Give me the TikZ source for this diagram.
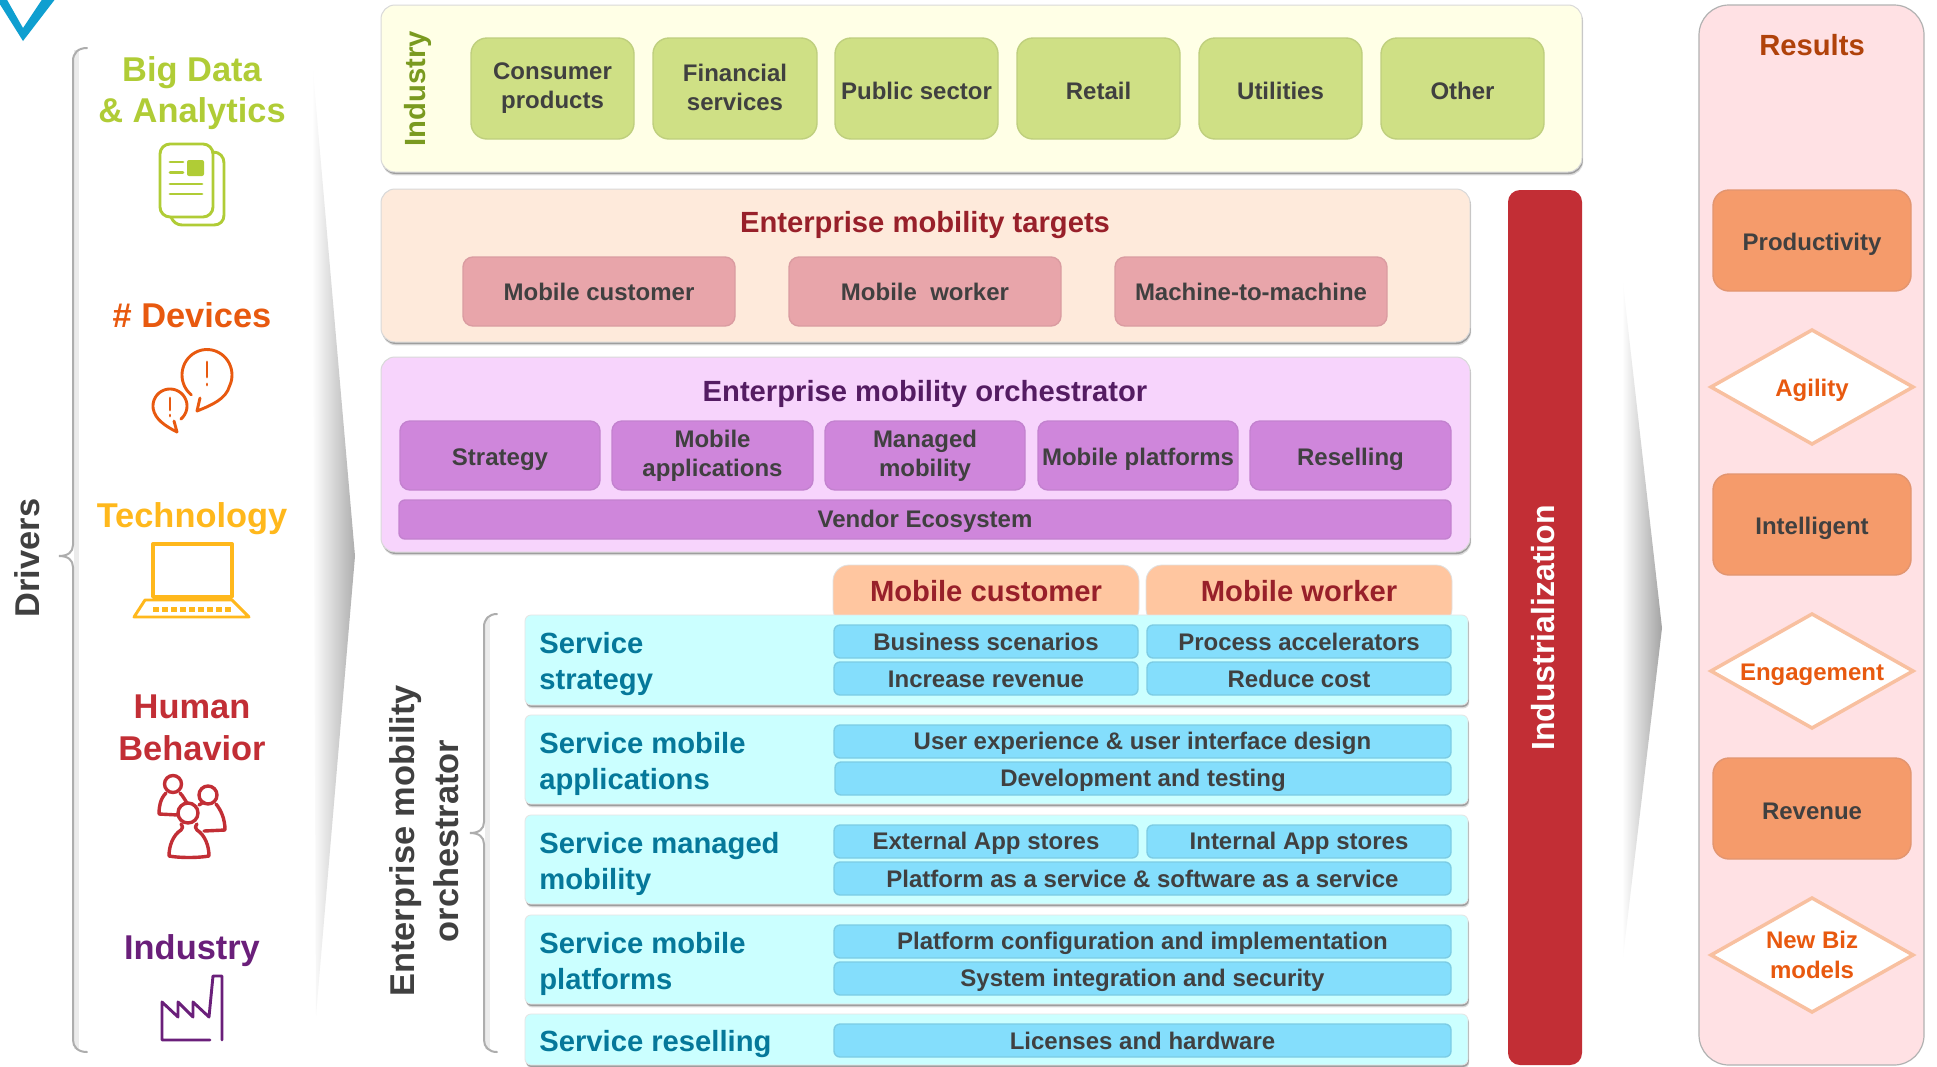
\documentclass[tikz,border=0pt]{standalone}
\usepackage{fontspec}
\setmainfont{Liberation Sans}
\usetikzlibrary{shapes.geometric,shadows}
\definecolor{txt}{HTML}{404040}
\definecolor{indbg}{HTML}{FFFFE6}
\definecolor{indbox}{HTML}{CFE085}
\definecolor{indedge}{HTML}{BFCF7E}
\definecolor{tgtbg}{HTML}{FEEADB}
\definecolor{tgtbox}{HTML}{E8A5AA}
\definecolor{tgtedge}{HTML}{DA9CA1}
\definecolor{orcbg}{HTML}{F7D4FC}
\definecolor{orcbox}{HTML}{CF86DB}
\definecolor{orcedge}{HTML}{C382CF}
\definecolor{tabf}{HTML}{FFC6A0}
\definecolor{tabt}{HTML}{98202A}
\definecolor{band}{HTML}{CBFFFF}
\definecolor{blu}{HTML}{84DEFC}
\definecolor{bluedge}{HTML}{7CCCE4}
\definecolor{teal}{HTML}{05789A}
\definecolor{resbg}{HTML}{FFE1E4}
\definecolor{orng}{HTML}{F59B6B}
\definecolor{orngedge}{HTML}{E29570}
\definecolor{dia}{HTML}{F8C0A0}
\definecolor{redbar}{HTML}{C22E35}
\definecolor{cBig}{HTML}{B0CC36}
\definecolor{cDev}{HTML}{E8590F}
\definecolor{cTec}{HTML}{FFB81C}
\definecolor{cHum}{HTML}{C22E35}
\definecolor{cInd}{HTML}{6A1F7A}
\definecolor{chev}{HTML}{0F9FD0}
\newcommand{\fa}{\fontsize{12}{14.6}\selectfont\bfseries}
\newcommand{\fb}{\fontsize{14.6}{18}\selectfont\bfseries}
\newcommand{\fc}{\fontsize{17.2}{20}\selectfont\bfseries}
\newcommand{\lowstrut}{\rule[-1.6pt]{0pt}{12pt}}
\newcommand{\lowerstrut}{\rule[-1.6pt]{0pt}{14pt}}
\newcommand{\bx}[7]{%
  \pgfmathsetmacro\bxw{(#4-#2)*0.5}%
  \pgfmathsetmacro\bxh{(#5-#3)*0.5}%
  \node[#6,minimum width=\bxw pt,minimum height=\bxh pt] (#1) at ({(#2+#4)/2},{(#3+#5)/2}) {#7};}
\tikzset{
  softshadow/.style={drop shadow={shadow xshift=0.6pt,shadow yshift=-1.7pt,fill=black,opacity=0.14},
                     drop shadow={shadow xshift=0.4pt,shadow yshift=-1pt,fill=black,opacity=0.28}},
  panel/.style={rounded corners=7pt,softshadow,inner sep=0pt,outer sep=0pt,draw=black!15,line width=0.5pt},
  inbox/.style={rounded corners=6pt,inner sep=0pt,outer sep=0pt,line width=0.7pt,font=\fa,text=txt,align=center,
     execute at begin node=\lowstrut,execute at end node=\lowstrut},
  inboxlow/.style={inbox,execute at begin node=\lowerstrut,execute at end node=\lowerstrut},
  indb/.style={inboxlow,fill=indbox,draw=indedge,rounded corners=8pt},
  tgtb/.style={inbox,fill=tgtbox,draw=tgtedge,rounded corners=5pt},
  orcb/.style={inboxlow,fill=orcbox,draw=orcedge,rounded corners=5pt},
  blub/.style={inbox,fill=blu,draw=bluedge,rounded corners=3pt},
  bandb/.style={rounded corners=3pt,fill=band,softshadow,inner sep=0pt,outer sep=0pt,draw=black!10,line width=0.4pt},
  bandt/.style={font=\fb,text=teal,align=left,anchor=west,inner sep=0pt},
  tabshape/.style={fill=tabf,draw=black!12,line width=0.4pt},
  tabt/.style={font=\fb,text=tabt,inner sep=0pt},
  resb/.style={inboxlow,fill=orng,draw=orngedge,rounded corners=8pt},
  diab/.style={diamond,aspect=1.77,fill=white,draw=dia,line width=1.75pt,inner sep=0pt,outer sep=0pt,
     font=\fa,text=cDev,align=center},
  ttl/.style={font=\fb,inner sep=0pt},
  drv/.style={font=\fc,inner sep=0pt,align=center,anchor=base},
  brace/.style={draw=black!32,line width=1pt,line cap=round},
  braceglow/.style={draw=black!8,line width=2.5pt},
  icon/.style={line width=1.45pt,line cap=round,line join=round},
}
\begin{document}
\begin{tikzpicture}[x=0.5pt,y=-0.5pt]
\useasboundingbox (0,0) rectangle (1937,1066);
\clip (0,0) rectangle (1937,1066);
\fill[white] (0,0) rectangle (1937,1066);
% arrow-like shaded edges
\shade[left color=white,right color=black!32] (312,60) -- (355,556) -- (316,1015) -- cycle;
\shade[left color=white,right color=black!36] (1622,275) -- (1662,628) -- (1622,965) -- cycle;
% chevron
\fill[chev] (-4,-2) -- (23,41) -- (56,-2) -- (43,-2) -- (23,28) -- (6,-2) -- cycle;
% braces
\draw[braceglow] (76,50) -- (76,1049);
\draw[brace] (87,48) .. controls (78,48) and (73,53) .. (73,61) -- (73,545) .. controls (73,552) and (68,556) .. (59,556) .. controls (68,556) and (73,560) .. (73,567) -- (73,1040) .. controls (73,1047) and (78,1052) .. (87,1052);
\draw[braceglow] (487,618) -- (487,1049);
\draw[brace] (497,614) .. controls (489,614) and (484,619) .. (484,627) -- (484,822) .. controls (484,829) and (479,833) .. (470,833) .. controls (479,833) and (484,837) .. (484,844) -- (484,1040) .. controls (484,1047) and (489,1052) .. (497,1052);
% drivers column
\node[font=\fc,text=txt,rotate=90,inner sep=0pt] (drivers) at (27,558) {Drivers};
\node[drv,text=cBig] (bd1) at (192,81) {Big Data};
\node[drv,text=cBig] (bd2) at (192,122) {\& Analytics};
\node[drv,text=cDev] (dev) at (192,327) {\# Devices};
\node[drv,text=cTec] (tec) at (192,527) {Technology};
\node[drv,text=cHum] (hum1) at (192,718) {Human};
\node[drv,text=cHum] (hum2) at (192,760) {Behavior};
\node[drv,text=cInd] (ind) at (192,959) {Industry};
% icon: documents
\draw[icon,draw=cBig] (213,152) .. controls (220,152) and (224,157) .. (224,163) -- (224,215) .. controls (224,221) and (220,225) .. (214,225) -- (182,225) .. controls (177,225) and (173,222) .. (171,217);
\draw[icon,draw=cBig,rounded corners=5pt] (160,144) rectangle (213,217);
\draw[icon,draw=cBig] (170,162) -- (183,162) (170,172.5) -- (183,172.5) (170,184) -- (202,184) (170,194) -- (202,194);
\fill[cBig,rounded corners=1pt] (187,160) rectangle (204,176);
% icon: speech bubbles
\draw[icon,draw=cDev] plot[domain=129:385,samples=40] ({207+25*cos(\x)},{375+25.5*sin(\x)}) .. controls (226,399) and (212,405) .. (197,411) -- (200,398);
\draw[icon,draw=cDev] (207,362) -- (207,377) (207,384) -- (207,385);
\draw[icon,draw=cDev] plot[domain=50:-190,samples=40] ({170+17*cos(\x)},{406+17*sin(\x)}) .. controls (155,419) and (165,426) .. (177,432) -- (174,421);
\draw[icon,draw=cDev] (170,398) -- (170,410) (170,415) -- (170,416);
% icon: laptop
\draw[icon,draw=cTec,line width=1.7pt] (153,544) rectangle (232,597);
\draw[icon,draw=cTec] (145,600) -- (232,600) -- (249,617) -- (134,617) -- cycle;
\draw[draw=cTec,line width=2.4pt,dash pattern=on 3pt off 1.5pt] (153,609.5) -- (232,609.5);
% icon: people
\begin{scope}[line width=1.7pt,line cap=round,line join=round,draw=cHum]
\draw (173,784) circle[radius=8.5];
\draw (208,795) circle[radius=9];
\draw (166,793) .. controls (160,799) and (159,807) .. (159,814) -- (178,815);
\draw (180,793) .. controls (183,796) and (185,800) .. (187,803);
\draw (199,805) -- (204,802);
\draw (216,804) .. controls (221,810) and (225,819) .. (225,830) -- (204,831);
\draw[fill=white] (188,813) circle[radius=10];
\draw (181,824) .. controls (183,827) and (183,828) .. (181,830) .. controls (173,835) and (169,846) .. (169,856) .. controls (180,858) and (198,858) .. (209,856) .. controls (209,846) and (205,835) .. (197,830) .. controls (195,828) and (195,827) .. (197,824);
\end{scope}
% icon: factory
\draw[icon,draw=cInd] (210,1040) -- (162,1040) -- (162,1002) -- (178,1017) -- (178,1002) -- (193,1017) -- (193,1002) -- (209,1017) -- (213,976) -- (222,976) -- (222,1040);
% industry band
\bx{indpanel}{381}{5}{1582}{172}{panel,fill=indbg}{}
\node[font=\fb,text={rgb,255:red,122;green,154;blue,32},rotate=90,inner sep=0pt] (indlbl) at (418,89) {Industry};
\bx{i1}{471}{38}{634}{139}{indb}{Consumer\\products}
\bx{i2}{653}{38}{817}{139}{indb}{Financial\\services}
\bx{i3}{835}{38}{998}{139}{indb}{Public sector}
\bx{i4}{1017}{38}{1180}{139}{indb}{Retail}
\bx{i5}{1199}{38}{1362}{139}{indb}{Utilities}
\bx{i6}{1381}{38}{1544}{139}{indb}{Other}
% targets
\bx{tgtpanel}{381}{189}{1470}{342}{panel,fill=tgtbg}{}
\node[ttl,text=tabt] (tgttitle) at (925,225) {Enterprise mobility targets};
\bx{t1}{463}{257}{735}{326}{tgtb}{Mobile customer}
\bx{t2}{789}{257}{1061}{326}{tgtb}{Mobile~~worker}
\bx{t3}{1115}{257}{1387}{326}{tgtb}{Machine-to-machine}
% orchestrator
\bx{orcpanel}{381}{357}{1470}{552}{panel,fill=orcbg}{}
\node[ttl,text={rgb,255:red,84;green,28;blue,98}] (orctitle) at (925,394) {Enterprise mobility orchestrator};
\bx{o1}{400}{421}{600}{490}{orcb}{Strategy}
\bx{o2}{612}{421}{813}{490}{orcb}{Mobile\\applications}
\bx{o3}{825}{421}{1025}{490}{orcb}{Managed\\mobility}
\bx{o4}{1038}{421}{1238}{490}{orcb}{Mobile platforms}
\bx{o5}{1250}{421}{1451}{490}{orcb}{Reselling}
\bx{o6}{399}{500}{1451}{539}{inbox,fill=orcbox,draw=orcedge,rounded corners=3pt}{Vendor Ecosystem}
% lower stack label
\node[font=\fc,text=txt,rotate=90,inner sep=0pt] (emo1) at (406,841) {Enterprise mobility};
\node[font=\fc,text=txt,rotate=90,inner sep=0pt] (emo2) at (446,841) {orchestrator};
% tabs
\fill[tabshape,rounded corners=8pt] (833,625) -- (833,565) -- (1139,565) -- (1139,625) -- cycle;
\fill[tabshape,rounded corners=8pt] (1146,625) -- (1146,565) -- (1452,565) -- (1452,625) -- cycle;
\node[tabt] (tab1) at (986,591) {Mobile customer};
\node[tabt] (tab2) at (1299,591) {Mobile worker};
% bands
\bx{b1}{525}{615}{1468}{705}{bandb}{}
\bx{b2}{525}{715}{1468}{804}{bandb}{}
\bx{b3}{525}{815}{1468}{904}{bandb}{}
\bx{b4}{525}{915}{1468}{1004}{bandb}{}
\bx{b5}{525}{1014}{1468}{1065}{bandb}{}
\node[bandt] (s1) at (539,664) {Service\\strategy};
\node[bandt] (s2) at (539,764) {Service mobile\\applications};
\node[bandt] (s3) at (539,864) {Service managed\\mobility};
\node[bandt] (s4) at (539,964) {Service mobile\\platforms};
\node[bandt] (s5) at (539,1044) {Service reselling};
\bx{r11}{834}{625}{1138}{658}{blub}{Business scenarios}
\bx{r12}{1147}{625}{1451}{658}{blub}{Process accelerators}
\bx{r13}{834}{662}{1138}{695}{blub}{Increase revenue}
\bx{r14}{1147}{662}{1451}{695}{blub}{Reduce cost}
\bx{r21}{834}{725}{1451}{758}{blub}{User experience \& user interface design}
\bx{r22}{835}{762}{1451}{795}{blub}{Development and testing}
\bx{r31}{834}{825}{1138}{858}{blub}{External App stores}
\bx{r32}{1147}{825}{1451}{858}{blub}{Internal App stores}
\bx{r33}{834}{862}{1451}{895}{blub}{Platform as a service \& software as a service}
\bx{r41}{834}{925}{1451}{958}{blub}{Platform configuration and implementation}
\bx{r42}{834}{962}{1451}{995}{blub}{System integration and security}
\bx{r51}{834}{1024}{1451}{1057}{blub}{Licenses and hardware}
% industrialization bar
\bx{bar}{1508}{190}{1582}{1065}{rounded corners=6pt,fill=redbar,inner sep=0pt,outer sep=0pt}{}
\node[font=\fontsize{16}{20}\selectfont\bfseries,text=white,rotate=90,inner sep=0pt] (barlbl) at (1543,628) {Industrialization};
% results
\bx{res}{1699}{5}{1924}{1065}{rounded corners=15pt,fill=resbg,draw=black!30,line width=0.6pt,inner sep=0pt,outer sep=0pt}{}
\node[ttl,text={rgb,255:red,176;green,66;blue,10}] (restitle) at (1812,45) {Results};
\bx{p1}{1713}{190}{1911}{291}{resb}{Productivity}
\bx{p2}{1713}{474}{1911}{575}{resb}{Intelligent}
\bx{p3}{1713}{758}{1911}{859}{resb}{Revenue}
\node[diab,minimum width=101pt,minimum height=57pt] (d1) at (1812,387) {\lowerstrut Agility};
\node[diab,minimum width=101pt,minimum height=57pt] (d2) at (1812,671) {\lowerstrut Engagement};
\node[diab,minimum width=101pt,minimum height=57pt] (d3) at (1812,955) {New Biz\\models};
\end{tikzpicture}
\end{document}
